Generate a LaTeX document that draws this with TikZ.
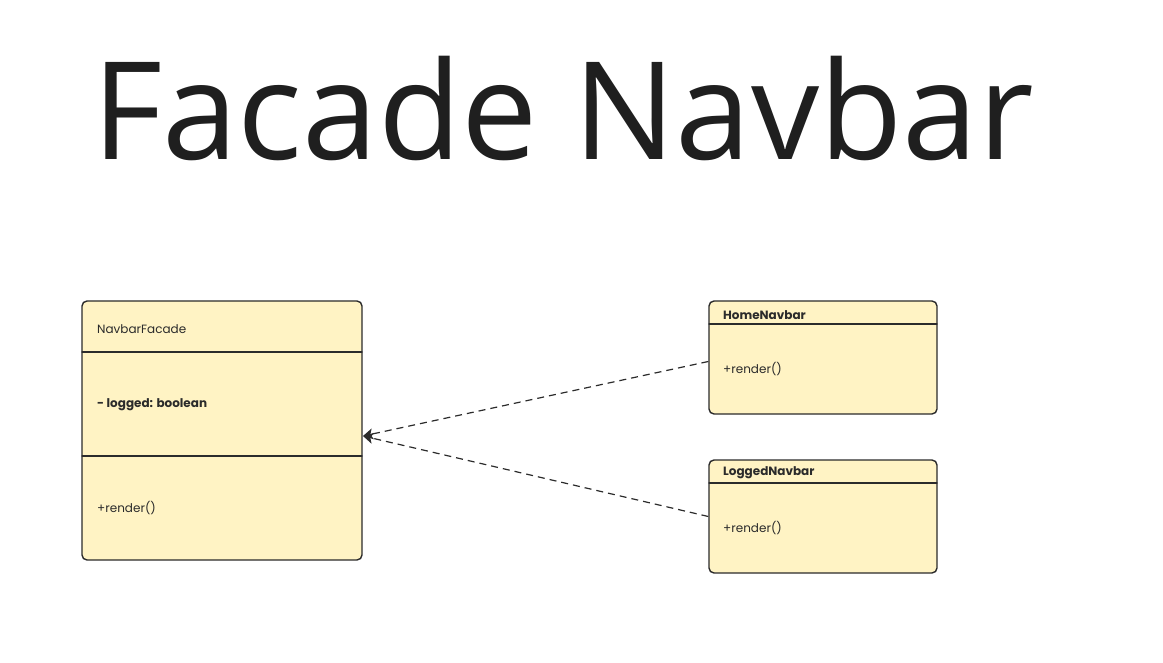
\documentclass[tikz,border=0pt]{standalone}
\usepackage{fontspec}
\setmainfont{Poppins}
\newfontfamily\titlefont{Open Sans}
\usetikzlibrary{arrows.meta,positioning,calc}
\definecolor{boxfill}{HTML}{FFF3C4}
\definecolor{ink}{HTML}{2B2B2B}
\begin{document}
\begin{tikzpicture}[x=1pt, y=-1pt, line join=round, line cap=round, >={Stealth[length=10pt,width=11pt,inset=2.5pt]},
  classbox/.style={draw=ink, fill=boxfill, line width=1.4pt, rounded corners=5pt, inner sep=0pt},
  member/.style={anchor=west, inner sep=0pt, text=ink, font=\fontsize{12}{14}\selectfont},
  realize/.style={->, draw=ink, line width=1.2pt, line cap=butt, dash pattern=on 7pt off 5pt}]
  \useasboundingbox (0,0) rectangle (1163,663);
  \node[anchor=base, text=black!88, inner sep=0pt, font=\titlefont\fontsize{136}{150}\selectfont] (title) at (563,160) {Facade Navbar};
  % facade
  \node[classbox, minimum width=280pt, minimum height=259pt] (facade) at (222,430.5) {};
  \draw[ink, line width=1.2pt] (82,352) -- (362,352) (82,456) -- (362,456);
  \node[member] (facadename) at (97,329) {NavbarFacade};
  \node[member, font=\bfseries\fontsize{12}{14}\selectfont] (logged) at (97,405) {- logged: boolean};
  \node[member] (facaderender) at (97,508) {+render()};
  % subsystems
  \node[classbox, minimum width=228pt, minimum height=113pt] (home) at (823,357.5) {};
  \node[classbox, minimum width=228pt, minimum height=113pt] (loggednav) at (823,516.5) {};
  \draw[ink, line width=1.2pt] (709,324) -- (937,324) (709,483) -- (937,483);
  \node[member, font=\bfseries\fontsize{12}{14}\selectfont] (homename) at (723,315) {HomeNavbar};
  \node[member] (homerender) at (723,369) {+render()};
  \node[member, font=\bfseries\fontsize{12}{14}\selectfont] (loggedname) at (723,473) {LoggedNavbar};
  \node[member] (loggedrender) at (723,528) {+render()};
  \coordinate (tip) at (363,436);
  \draw[realize] ($(home.west)+(0,4)$) -- (tip);
  \draw[realize] (loggednav.west) -- (tip);
\end{tikzpicture}
\end{document}
